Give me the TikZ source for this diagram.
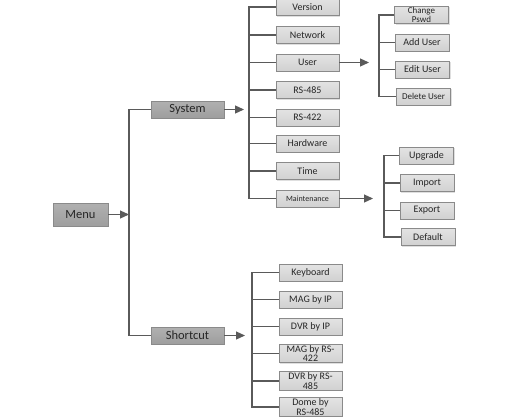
\documentclass[tikz,border=0pt]{standalone}
\usepackage{fontspec}
\setmainfont{Carlito}
\usetikzlibrary{arrows.meta, shadows}

\definecolor{wire}{HTML}{5A5A5A}
\definecolor{edge}{HTML}{8A8A8A}
\definecolor{ink}{HTML}{262626}

\tikzset{
    box/.style={draw=edge, line width=0.8pt, text=ink, inner sep=1pt, align=center,
        drop shadow={opacity=0.25, shadow xshift=1pt, shadow yshift=-1pt}},
    topbox/.style={box, top color=gray!62, bottom color=gray!76, minimum width=73pt,
        minimum height=17pt, font=\fontsize{12.5}{13}\selectfont},
    leaf/.style={box, top color=gray!22, bottom color=gray!36, minimum width=63pt,
        minimum height=17pt, font=\fontsize{10}{8}\selectfont},
    subleaf/.style={leaf, minimum width=54pt, font=\fontsize{9}{7}\selectfont},
    wires/.style={draw=wire, line width=1.2pt},
    arr/.style={wires, -{Triangle[length=9pt, width=8pt]}},
}

\begin{document}
\begin{tikzpicture}[x=1pt, y=-1pt]
    \useasboundingbox[fill=white] (0,0) rectangle (516,418);

    % Root and first level
    \node[topbox, minimum width=55pt, minimum height=23pt] (menu) at (80.5,214.5) {Menu};
    \node[topbox] (sys) at (187.5,109.5) {System};
    \node[topbox] (sc) at (187.5,335.5) {Shortcut};
    \coordinate (t1) at (129,214.5);
    \draw[arr] (menu) -- (t1);
    \draw[wires] (sys.west) -| (t1) |- (sc.west);

    % System entries
    \node[leaf] (ver) at (307.5,7) {Version};
    \node[leaf] (net) at (307.5,35) {Network};
    \node[leaf] (usr) at (307.5,62.5) {User};
    \node[leaf] (r485) at (307.5,90) {RS-485};
    \node[leaf] (r422) at (307.5,117.5) {RS-422};
    \node[leaf] (hw) at (307.5,143.5) {Hardware};
    \node[leaf] (tm) at (307.5,171) {Time};
    \node[leaf, font=\fontsize{8}{8}\selectfont] (mnt) at (307.5,198.5) {Maintenance};
    \coordinate (t2) at (249,109.5);
    \draw[arr, shorten >=5pt] (sys) -- (t2);
    \draw[wires] (ver.west) -| (t2) |- (mnt.west);
    \foreach \n in {net, usr, r485, r422, hw, tm}
        \draw[wires] (t2 |- \n) -- (\n.west);

    % User entries
    \node[subleaf] (pswd) at (421.5,15) {Change\\Pswd};
    \node[subleaf, font=\fontsize{10}{8}\selectfont] (add) at (422,42.5) {Add User};
    \node[subleaf, font=\fontsize{10}{8}\selectfont] (edit) at (422.5,69.5) {Edit User};
    \node[subleaf] (del) at (423.5,96.5) {Delete User};
    \coordinate (t3) at (379,62.5);
    \draw[arr, shorten >=10pt] (usr) -- (t3);
    \draw[wires] (pswd.west) -| (t3) |- (del.west);
    \foreach \n in {add, edit}
        \draw[wires] (t3 |- \n) -- (\n.west);

    % Maintenance entries
    \node[subleaf, font=\fontsize{10}{8}\selectfont] (upg) at (426.5,155.5) {Upgrade};
    \node[subleaf, font=\fontsize{10}{8}\selectfont] (imp) at (427,183) {Import};
    \node[subleaf, font=\fontsize{10}{8}\selectfont] (exp) at (427,210.5) {Export};
    \node[subleaf, font=\fontsize{10}{8}\selectfont] (dft) at (428,237) {Default};
    \coordinate (t4) at (384,198.5);
    \draw[arr, shorten >=11pt] (mnt) -- (t4);
    \draw[wires] (upg.west) -| (t4) |- (dft.west);
    \foreach \n in {imp, exp}
        \draw[wires] (t4 |- \n) -- (\n.west);

    % Shortcut entries
    \node[leaf] (kbd) at (310.5,272.5) {Keyboard};
    \node[leaf] (magip) at (310.5,299.5) {MAG by IP};
    \node[leaf] (dvrip) at (310.5,326.5) {DVR by IP};
    \node[leaf] (mag422) at (310.5,353.5) {MAG by RS-\\422};
    \node[leaf] (dvr485) at (310.5,381) {DVR by RS-\\485};
    \node[leaf] (dome) at (310.5,407) {Dome by\\RS-485};
    \coordinate (t5) at (252,335.5);
    \draw[arr, shorten >=7pt] (sc) -- (t5);
    \draw[wires] (kbd.west) -| (t5) |- (dome.west);
    \foreach \n in {magip, dvrip, mag422, dvr485}
        \draw[wires] (t5 |- \n) -- (\n.west);
\end{tikzpicture}
\end{document}
